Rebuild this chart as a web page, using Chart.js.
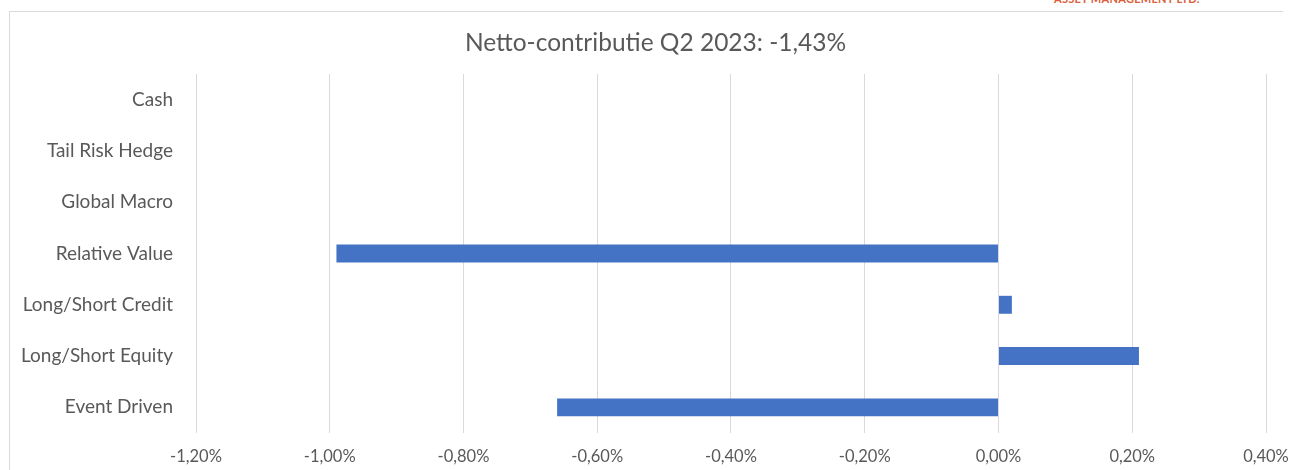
<!DOCTYPE html>
<html>
<head>
<meta charset="utf-8">
<script src="https://cdn.jsdelivr.net/npm/chart.js@4.4.0/dist/chart.umd.min.js"></script>
<style>
  html, body { margin:0; padding:0; background:#fff; width:1293px; height:470px; overflow:hidden; }
  #frame { position:absolute; left:9px; top:11px; width:1274px; height:470px; border-left:1px solid #d9d9d9; border-top:1px solid #d9d9d9; box-sizing:border-box; }
  #brand { position:absolute; left:1054px; top:-8px; font-family:Lato, sans-serif; font-weight:bold; font-size:11px; color:#d9603b; letter-spacing:0.3px; white-space:nowrap; }
  #title { position:absolute; left:0; width:1311px; top:27px; height:30px; line-height:30px; text-align:center; font-family:Lato, "Open Sans", sans-serif; font-size:24.5px; color:#595959; white-space:nowrap; }
  #wrap { position:absolute; left:0; top:0; width:1293px; height:470px; }
</style>
</head>
<body>
<div id="brand">ASSET MANAGEMENT LTD.</div>
<div id="frame"></div>
<div id="wrap"><canvas id="c" width="1293" height="470"></canvas></div>
<div id="title"></div>
<script>
const titleText = 'Netto-contributie Q2 2023: -1,43%';
const categories = ['Cash', 'Tail Risk Hedge', 'Global Macro', 'Relative Value', 'Long/Short Credit', 'Long/Short Equity', 'Event Driven'];
const contributions = [0, 0, 0, -0.99, 0.02, 0.21, -0.66];
const xMin = -1.2, xMax = 0.4, xStep = 0.2;

const FONT = 'Lato, "Open Sans", sans-serif';
const GREY = '#595959';

document.getElementById('title').textContent = titleText;

new Chart(document.getElementById('c'), {
  type: 'bar',
  data: {
    labels: categories,
    datasets: [{
      data: contributions,
      backgroundColor: '#4472C4',
      borderWidth: 0,
      barPercentage: 0.35,
      categoryPercentage: 1.0
    }]
  },
  options: {
    indexAxis: 'y',
    responsive: false,
    animation: false,
    layout: { padding: { left: 0, right: 27, top: 74, bottom: 0 } },
    plugins: {
      legend: { display: false },
      tooltip: { enabled: false },
      title: { display: false }
    },
    scales: {
      x: {
        min: xMin, max: xMax,
        ticks: {
          stepSize: xStep,
          color: GREY,
          font: { family: FONT, size: 16.5 },
          padding: 14,
          callback: v => v.toFixed(2).replace('.', ',') + '%'
        },
        grid: { color: '#d9d9d9', lineWidth: 1, drawTicks: false },
        border: { display: false },
        afterFit: s => { s.height = 37; s.paddingLeft = 0; s.paddingRight = 0; }
      },
      y: {
        ticks: {
          color: GREY,
          font: { family: FONT, size: 19 },
          padding: 23
        },
        grid: { display: false, drawTicks: false },
        border: { display: false },
        afterFit: s => { s.width = 196; s.paddingTop = 0; s.paddingBottom = 0; }
      }
    }
  }
});
</script>
</body>
</html>
